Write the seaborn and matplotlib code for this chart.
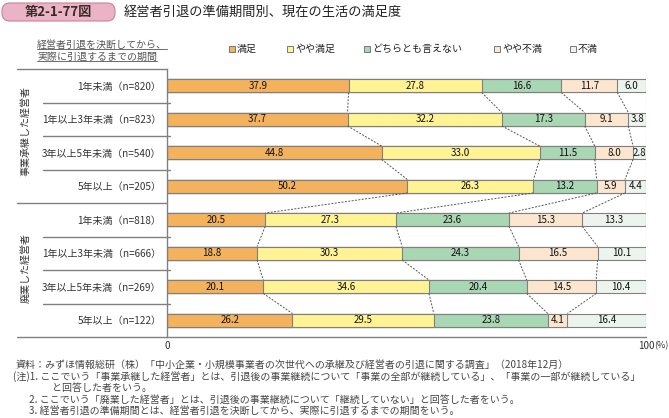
import numpy as np
import pandas as pd
import seaborn as sns
import matplotlib.pyplot as plt
import matplotlib.transforms as mtransforms
from matplotlib.patches import FancyBboxPatch, Rectangle
from matplotlib.lines import Line2D

# data
categories = ['満足', 'やや満足', 'どちらとも言えない', 'やや不満', '不満']
row_labels = ['1年未満（n=820）', '1年以上3年未満（n=823）', '3年以上5年未満（n=540）', '5年以上（n=205）',
              '1年未満（n=818）', '1年以上3年未満（n=666）', '3年以上5年未満（n=269）', '5年以上（n=122）']
group_labels = ['事業承継した経営者', '廃業した経営者']
manzoku = [37.9, 37.7, 44.8, 50.2, 20.5, 18.8, 20.1, 26.2]
yaya_manzoku = [27.8, 32.2, 33.0, 26.3, 27.3, 30.3, 34.6, 29.5]
dochira = [16.6, 17.3, 11.5, 13.2, 23.6, 24.3, 20.4, 23.8]
yaya_fuman = [11.7, 9.1, 8.0, 5.9, 15.3, 16.5, 14.5, 4.1]
fuman = [6.0, 3.8, 2.8, 4.4, 13.3, 10.1, 10.4, 16.4]

colors = ['#F5B25C', '#FFF394', '#A9D6B3', '#FDE6CF', '#EDF4EE']
edge = '#808080'
txt = '#333333'

wide = pd.DataFrame(dict(zip(categories, [manzoku, yaya_manzoku, dochira, yaya_fuman, fuman])),
                    index=row_labels)
cum = wide.cumsum(axis=1)

sns.set_style('white')
plt.rcParams['font.family'] = ['Noto Sans CJK JP', 'DejaVu Sans']

W, H = 669, 418
fig = plt.figure(figsize=(W / 100, H / 100), dpi=100)

def fx(x):
    return x / W

def fy(y):
    return 1 - y / H

ax = fig.add_axes([fx(167), fy(337), (646 - 167) / W, (337 - 69) / H])

# stacked bars: draw cumulative totals from the widest down so each layer sits on top
for cat, col in reversed(list(zip(categories, colors))):
    sns.barplot(x=cum[cat].values, y=row_labels, orient='h', color=col, saturation=1,
                width=0.4, edgecolor=edge, linewidth=0.8, errorbar=None, ax=ax)

# value labels
for i, row in enumerate(row_labels):
    for cat in categories:
        v = wide.loc[row, cat]
        c = cum.loc[row, cat] - v / 2
        ax.text(c, i, f'{v:.1f}', ha='center', va='center', fontsize=7, color='#111111')

# dotted connectors between segment boundaries
for i in range(len(row_labels) - 1):
    for k in range(len(categories) - 1):
        x1 = cum.iloc[i, k]
        x2 = cum.iloc[i + 1, k]
        ax.plot([x1, x2], [i + 0.2, i + 0.8], ls=(0, (2, 1.5)), color='#555555', lw=0.7)

ax.axvline(100, ls=(0, (1.5, 1.5)), color='#888888', lw=0.8)

ax.set_xlim(0, 100)
ax.set_ylim(7.5, -0.5)
ax.set_xlabel('')
ax.set_ylabel('')
ax.set_yticks(range(len(row_labels)))
ax.set_yticklabels(row_labels, fontsize=7.2, color=txt)
ax.tick_params(axis='y', length=0, pad=4)
ax.set_xticks([0, 100])
ax.set_xticklabels(['0', '100'], fontsize=7.2, color=txt)
ax.tick_params(axis='x', length=0, pad=3)
ax.text(100, 7.5, '(%)', transform=mtransforms.offset_copy(ax.transData, fig=fig, x=8, y=-9, units='dots'),
        fontsize=6.5, color=txt, ha='left', va='center')
for s in ['top', 'right']:
    ax.spines[s].set_visible(False)
for s in ['left', 'bottom']:
    ax.spines[s].set_color(edge)
    ax.spines[s].set_linewidth(1)

# separator lines in the label area
trans = mtransforms.blended_transform_factory(ax.transAxes, ax.transData)
for y in [0.5, 1.5, 2.5, 4.5, 5.5, 6.5]:
    ax.add_line(Line2D([(43 - 167) / 479, 3 / 479], [y, y], transform=trans, color=edge, lw=1, clip_on=False))
for y in [-0.5, 3.5, 7.5]:
    ax.add_line(Line2D([(17 - 167) / 479, 0], [y, y], transform=trans, color=edge, lw=1, clip_on=False))

# group labels
ax.text((26 - 167) / 479, 1.35, group_labels[0], transform=trans, rotation=90, ha='center', va='center',
        fontsize=7.2, color=txt)
ax.text((26 - 167) / 479, 5.45, group_labels[1], transform=trans, rotation=90, ha='center', va='center',
        fontsize=7.2, color=txt)

# title banner
banner = FancyBboxPatch((2 / 100, (H - 21) / 100), 113 / 100, 18 / 100,
                        boxstyle='round,pad=0,rounding_size=0.08', transform=fig.dpi_scale_trans,
                        facecolor='#EBB4C6', edgecolor='#C98199', lw=0.8)
fig.add_artist(banner)
fig.text(fx(58), fy(12), '第2-1-77図', ha='center', va='center', fontsize=9.5, color='#3A2A2A', weight='bold')
fig.text(fx(124), fy(12), '経営者引退の準備期間別、現在の生活の満足度', ha='left', va='center',
         fontsize=9.5, color='#222222')

# header above the row labels (underlined)
h1 = fig.text(fx(37), fy(45), '経営者引退を決断してから、', ha='left', va='center', fontsize=7.2, color='#555555')
h2 = fig.text(fx(37), fy(57), '実際に引退するまでの期間', ha='left', va='center', fontsize=7.2, color='#555555')

# legend
leg_x = [232, 290, 367, 497, 573]
for x, cat, col in zip(leg_x, categories, colors):
    fig.add_artist(Rectangle((fx(x - 3), fy(52)), 6 / W, 6 / H, transform=fig.transFigure,
                             facecolor=col, edgecolor='#777777', lw=0.7))
    fig.text(fx(x + 5), fy(49), cat, ha='left', va='center', fontsize=7.2, color='#222222')

# footnotes
notes = [
    (16, 365, '資料：みずほ情報総研（株）「中小企業・小規模事業者の次世代への承継及び経営者の引退に関する調査」（2018年12月）'),
    (13, 376.5, '(注)1. ここでいう「事業承継した経営者」とは、引退後の事業継続について「事業の全部が継続している」、「事業の一部が継続している」'),
    (52, 388, 'と回答した者をいう。'),
    (29, 399.5, '2. ここでいう「廃業した経営者」とは、引退後の事業継続について「継続していない」と回答した者をいう。'),
    (29, 411, '3. 経営者引退の準備期間とは、経営者引退を決断してから、実際に引退するまでの期間をいう。'),
]
for x, y, s in notes:
    fig.text(fx(x), fy(y), s, ha='left', va='center', fontsize=7.2, color='#444444')

# underline the header lines
fig.canvas.draw()
inv = fig.transFigure.inverted()
for t in [h1, h2]:
    bb = t.get_window_extent()
    (x0, y0), (x1, _) = inv.transform([(bb.x0, bb.y0), (bb.x1, bb.y1)])
    fig.add_artist(Line2D([x0, x1], [y0 + 0.002, y0 + 0.002], transform=fig.transFigure, color='#555555', lw=0.6))

fig.savefig('out.png', dpi=100)
